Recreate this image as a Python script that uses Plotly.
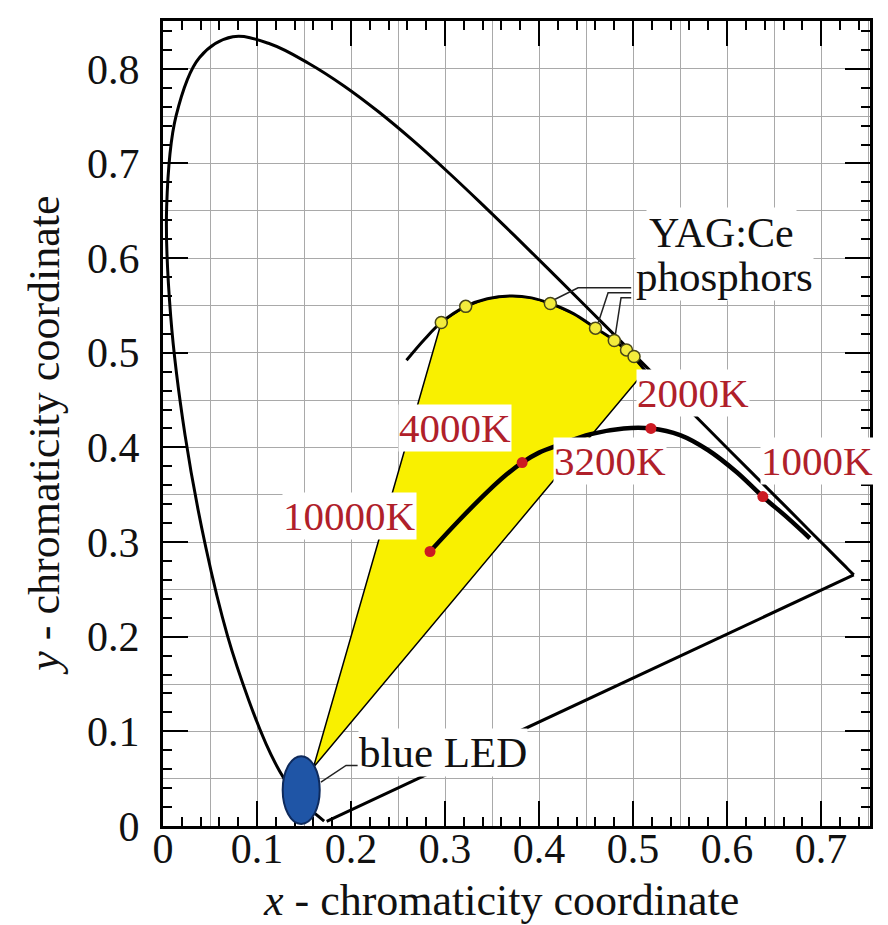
import plotly.graph_objects as go

# ---------------- data ----------------
# spectral locus (CIE 1931 chromaticity)
locus_x = [0.1714, 0.1644, 0.1566, 0.1440, 0.1355, 0.1241, 0.1096, 0.0913, 0.0687,
           0.0454, 0.0235, 0.0082, 0.0039, 0.0139, 0.0389, 0.0743, 0.1142, 0.1547,
           0.1929, 0.2296, 0.2658, 0.3016, 0.3373, 0.3731, 0.4087, 0.4441, 0.4788,
           0.5125, 0.5448, 0.5752, 0.6029, 0.6270, 0.6482, 0.6658, 0.6915, 0.7079,
           0.7190, 0.7260, 0.7300, 0.7347]
locus_y = [0.0051, 0.0109, 0.0177, 0.0297, 0.0399, 0.0578, 0.0868, 0.1327, 0.2007,
           0.2950, 0.4127, 0.5384, 0.6548, 0.7502, 0.8120, 0.8338, 0.8262, 0.8059,
           0.7816, 0.7543, 0.7243, 0.6923, 0.6589, 0.6245, 0.5896, 0.5547, 0.5202,
           0.4866, 0.4544, 0.4242, 0.3965, 0.3725, 0.3514, 0.3340, 0.3083, 0.2920,
           0.2809, 0.2740, 0.2700, 0.2653]
purple_x = [0.1741, 0.7347]
purple_y = [0.0050, 0.2653]

# Planckian locus
planck_x = [0.284, 0.314, 0.345, 0.365, 0.382, 0.400, 0.422, 0.455, 0.490, 0.519,
            0.550, 0.580, 0.610, 0.638, 0.665, 0.688]
planck_y = [0.290, 0.322, 0.353, 0.371, 0.384, 0.3945, 0.403, 0.414, 0.420, 0.420,
            0.413, 0.397, 0.374, 0.348, 0.325, 0.304]

# colour temperatures
cct_labels = ["10000K", "4000K", "3200K", "2000K", "1000K"]
cct_x = [0.284, 0.382, 0.422, 0.519, 0.638]
cct_y = [0.290, 0.384, 0.403, 0.420, 0.348]
cct_label_x = [0.198, 0.311, 0.475, 0.564, 0.696]
cct_label_y = [0.327, 0.420, 0.386, 0.458, 0.386]

# YAG:Ce phosphor locus and phosphor points
arc_x = [0.259, 0.278, 0.296, 0.322, 0.345, 0.370, 0.392, 0.412, 0.437, 0.460,
         0.480, 0.497, 0.513]
arc_y = [0.492, 0.514, 0.532, 0.549, 0.557, 0.560, 0.558, 0.552, 0.541, 0.526,
         0.513, 0.499, 0.481]
ph_x = [0.296, 0.322, 0.412, 0.460, 0.480, 0.493, 0.501]
ph_y = [0.532, 0.549, 0.552, 0.526, 0.513, 0.503, 0.496]

# blue LED
led_x, led_y = 0.147, 0.038
led_rx, led_ry = 0.0197, 0.0358
wedge_tip = (0.160, 0.062)

# leader lines
leader_x = [0.498, 0.4415, 0.416, None, 0.498, 0.4734, 0.463, None, 0.498, 0.4872, 0.4805,
            None, 0.168, 0.1947, 0.2070]
leader_y = [0.5687, 0.5687, 0.556, None, 0.5635, 0.5635, 0.532, None, 0.5582, 0.5582, 0.515,
            None, 0.0463, 0.0640, 0.0640]

x_range = [0, 0.752]
y_range = [0, 0.8505]

FONT = "Liberation Serif"
RED_TXT = "#b0202a"

fig = go.Figure()

# invisible trace for grid overlay axes
fig.add_trace(go.Scatter(x=[None], y=[None], xaxis="x2", yaxis="y2",
                         showlegend=False, hoverinfo="skip"))

# yellow wedge
wx = [wedge_tip[0]] + arc_x[2:] + [wedge_tip[0]]
wy = [wedge_tip[1]] + arc_y[2:] + [wedge_tip[1]]
fig.add_trace(go.Scatter(x=wx, y=wy, mode="lines", fill="toself",
                         fillcolor="#f9f000", line=dict(color="black", width=1.5),
                         showlegend=False, hoverinfo="skip"))

# spectral locus
fig.add_trace(go.Scatter(x=locus_x, y=locus_y, mode="lines",
                         line=dict(color="black", width=3, shape="spline", smoothing=1.0),
                         showlegend=False, hoverinfo="skip"))
fig.add_trace(go.Scatter(x=purple_x, y=purple_y, mode="lines",
                         line=dict(color="black", width=3),
                         showlegend=False, hoverinfo="skip"))

# phosphor arc
fig.add_trace(go.Scatter(x=arc_x, y=arc_y, mode="lines",
                         line=dict(color="black", width=3, shape="spline"),
                         showlegend=False, hoverinfo="skip"))

# Planckian locus
fig.add_trace(go.Scatter(x=planck_x, y=planck_y, mode="lines",
                         line=dict(color="black", width=4.5, shape="spline"),
                         showlegend=False, hoverinfo="skip"))

# leader lines
fig.add_trace(go.Scatter(x=leader_x, y=leader_y, mode="lines",
                         line=dict(color="#222222", width=1.5),
                         showlegend=False, hoverinfo="skip", connectgaps=False))

# phosphor points
fig.add_trace(go.Scatter(x=ph_x, y=ph_y, mode="markers",
                         marker=dict(size=12, color="#f3ec3c",
                                     line=dict(color="#4a4818", width=1.5)),
                         showlegend=False, hoverinfo="skip"))

# CCT points
fig.add_trace(go.Scatter(x=cct_x, y=cct_y, mode="markers",
                         marker=dict(size=11, color="#cc1a22"),
                         showlegend=False, hoverinfo="skip"))

# blue LED ellipse
fig.add_shape(type="circle", xref="x", yref="y",
              x0=led_x - led_rx, x1=led_x + led_rx,
              y0=led_y - led_ry, y1=led_y + led_ry,
              fillcolor="#1f55a6", line=dict(color="#0e2a5c", width=2), layer="above")

annotations = []
for t, lx, ly in zip(cct_labels, cct_label_x, cct_label_y):
    annotations.append(dict(x=lx, y=ly, xref="x", yref="y", text=t, showarrow=False,
                            font=dict(family=FONT, size=41, color=RED_TXT),
                            bgcolor="white", borderpad=0,
                            xanchor="center", yanchor="middle"))

annotations.append(dict(x=0.594, y=0.627, xref="x", yref="y", text="YAG:Ce",
                        showarrow=False, font=dict(family=FONT, size=42, color="#111"),
                        bgcolor="white", borderpad=2, xanchor="center", yanchor="middle"))
annotations.append(dict(x=0.597, y=0.5805, xref="x", yref="y", text="phosphors",
                        showarrow=False, font=dict(family=FONT, size=43, color="#111"),
                        bgcolor="white", borderpad=0, xanchor="center", yanchor="middle"))
annotations.append(dict(x=0.2075, y=0.0775, xref="x", yref="y", text="blue LED",
                        showarrow=False, font=dict(family=FONT, size=43, color="#111"),
                        bgcolor="white", borderpad=0, xanchor="left", yanchor="middle"))

# axis titles
annotations.append(dict(x=0.4774, y=-0.0928, xref="paper", yref="paper",
                        text="<i>x</i> - chromaticity coordinate", showarrow=False,
                        font=dict(family=FONT, size=44, color="#111"),
                        xanchor="center", yanchor="middle"))
annotations.append(dict(x=-0.167, y=0.486, xref="paper", yref="paper",
                        text="<i>y</i> - chromaticity coordinate", showarrow=False,
                        textangle=-90,
                        font=dict(family=FONT, size=44, color="#111"),
                        xanchor="center", yanchor="middle"))

axis_common = dict(ticks="inside", ticklen=25, tickwidth=2, tickcolor="black",
                   showline=True, linewidth=3, linecolor="black", mirror="allticks",
                   showgrid=False, zeroline=False, dtick=0.1, tick0=0,
                   tickfont=dict(family=FONT, size=42, color="#111"),
                   minor=dict(dtick=0.02, tick0=0, ticks="inside", ticklen=9,
                              tickwidth=1.5, tickcolor="black", showgrid=False))

grid_common = dict(showgrid=True, gridcolor="#a9a9a9", gridwidth=1.2, dtick=0.05, tick0=0,
                   showticklabels=False, ticks="", showline=False, zeroline=False)

fig.update_layout(
    width=888, height=925,
    margin=dict(l=155, r=26, t=10, b=107),
    paper_bgcolor="white", plot_bgcolor="white",
    xaxis=dict(range=x_range, ticklabelstandoff=-16, **axis_common),
    yaxis=dict(range=y_range, ticklabelstandoff=12, **axis_common),
    xaxis2=dict(range=x_range, overlaying="x", anchor="y2", **grid_common),
    yaxis2=dict(range=y_range, overlaying="y", anchor="x2", **grid_common),
    annotations=annotations,
    showlegend=False,
)

fig.write_html("out.html")
